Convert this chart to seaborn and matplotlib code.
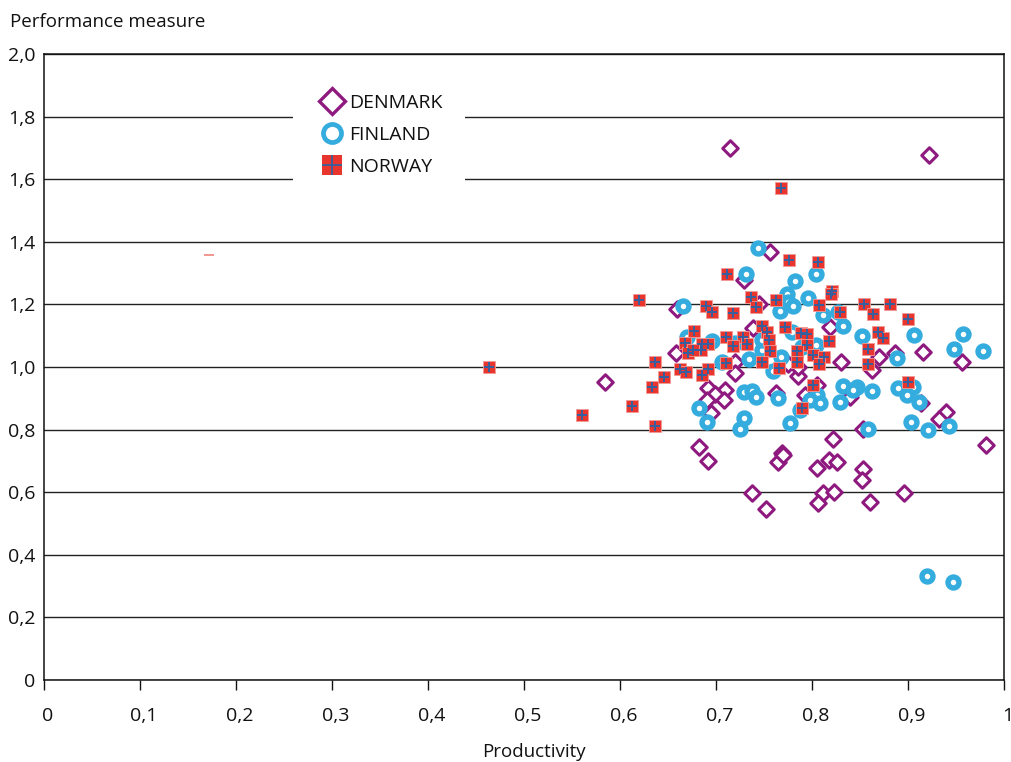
import matplotlib
matplotlib.use("Agg")
import matplotlib.pyplot as plt
import seaborn as sns
from matplotlib.legend_handler import HandlerTuple
from matplotlib.lines import Line2D
from matplotlib.patches import Rectangle
from matplotlib.transforms import ScaledTranslation

denmark_x = [0.7146, 0.922, 0.756, 0.729, 0.745, 0.659, 0.819, 0.739, 0.658, 0.584, 0.72, 0.72,
             0.692, 0.709, 0.699, 0.708, 0.691, 0.695, 0.682, 0.692, 0.769, 0.765, 0.770, 0.805,
             0.818, 0.826, 0.822, 0.853, 0.852, 0.738, 0.752, 0.811, 0.806, 0.823, 0.860, 0.896,
             0.981, 0.940, 0.932, 0.914, 0.853, 0.84, 0.956, 0.916, 0.886, 0.870, 0.863, 0.83,
             0.785, 0.785, 0.775, 0.762, 0.805, 0.793]
denmark_y = [1.70, 1.677, 1.367, 1.278, 1.20, 1.185, 1.128, 1.125, 1.044, 0.952, 1.016, 0.98,
             0.933, 0.927, 0.914, 0.895, 0.895, 0.853, 0.744, 0.70, 0.725, 0.697, 0.72, 0.677,
             0.703, 0.696, 0.77, 0.674, 0.639, 0.597, 0.546, 0.597, 0.565, 0.60, 0.569, 0.597,
             0.75, 0.856, 0.834, 0.885, 0.802, 0.904, 1.016, 1.048, 1.044, 1.032, 0.99, 1.016,
             0.971, 1.0, 1.01, 0.917, 0.942, 0.91]

finland_x = [0.744, 0.731, 0.782, 0.804, 0.774, 0.796, 0.775, 0.78, 0.767, 0.666, 0.811, 0.827,
             0.832, 0.852, 0.906, 0.957, 0.948, 0.978, 0.67, 0.696, 0.72, 0.748, 0.748, 0.779,
             0.79, 0.804, 0.768, 0.734, 0.706, 0.759, 0.889, 0.729, 0.7375, 0.742, 0.765, 0.832,
             0.847, 0.843, 0.863, 0.829, 0.805, 0.798, 0.808, 0.787, 0.89, 0.905, 0.899, 0.911,
             0.682, 0.691, 0.729, 0.725, 0.777, 0.858, 0.903, 0.921, 0.943, 0.92, 0.947]
finland_y = [1.38, 1.297, 1.275, 1.297, 1.233, 1.22, 1.208, 1.195, 1.179, 1.195, 1.166, 1.176,
             1.131, 1.099, 1.102, 1.105, 1.058, 1.051, 1.096, 1.083, 1.077, 1.054, 1.086, 1.112,
             1.064, 1.07, 1.032, 1.026, 1.016, 0.987, 1.028, 0.92, 0.923, 0.904, 0.901, 0.939,
             0.936, 0.926, 0.923, 0.888, 0.91, 0.895, 0.885, 0.863, 0.933, 0.936, 0.911, 0.888,
             0.869, 0.824, 0.837, 0.802, 0.821, 0.802, 0.824, 0.799, 0.811, 0.332, 0.313]

norway_x = [0.768, 0.776, 0.806, 0.711, 0.62, 0.821, 0.82, 0.736, 0.763, 0.69, 0.807, 0.742,
            0.696, 0.718, 0.829, 0.854, 0.881, 0.864, 0.90, 0.677, 0.748, 0.753, 0.772, 0.869,
            0.874, 0.789, 0.795, 0.71, 0.728, 0.755, 0.795, 0.818, 0.668, 0.692, 0.685, 0.718,
            0.732, 0.756, 0.858, 0.784, 0.684, 0.671, 0.676, 0.784, 0.801, 0.812, 0.807, 0.858,
            0.748, 0.766, 0.71, 0.636, 0.663, 0.669, 0.692, 0.685, 0.646, 0.633, 0.613, 0.636,
            0.801, 0.90, 0.79, 0.464, 0.56]
norway_y = [1.572, 1.342, 1.335, 1.297, 1.214, 1.243, 1.233, 1.224, 1.214, 1.195, 1.198, 1.192,
            1.176, 1.173, 1.176, 1.201, 1.201, 1.169, 1.153, 1.115, 1.131, 1.112, 1.128, 1.112,
            1.093, 1.109, 1.105, 1.096, 1.096, 1.086, 1.07, 1.083, 1.077, 1.073, 1.073, 1.067,
            1.073, 1.051, 1.058, 1.051, 1.054, 1.044, 1.054, 1.016, 1.038, 1.032, 1.01, 1.01,
            1.016, 0.997, 1.013, 1.016, 0.994, 0.984, 0.994, 0.974, 0.968, 0.936, 0.875, 0.811,
            0.942, 0.952, 0.869, 1.0, 0.847]

stray_x = [0.172]
stray_y = [1.357]

x_ticks = [0, 0.1, 0.2, 0.3, 0.4, 0.5, 0.6, 0.7, 0.8, 0.9, 1.0]
x_labels = ["0", "0,1", "0,2", "0,3", "0,4", "0,5", "0,6", "0,7", "0,8", "0,9", "1"]
y_ticks = [0, 0.2, 0.4, 0.6, 0.8, 1.0, 1.2, 1.4, 1.6, 1.8, 2.0]
y_labels = ["0", "0,2", "0,4", "0,6", "0,8", "1,0", "1,2", "1,4", "1,6", "1,8", "2,0"]

PURPLE = "#8f1a7f"
BLUE = "#35acde"
RED = "#e8352e"
CROSS = "#35609f"

sns.set_theme(style="white")
plt.rcParams["font.family"] = ["Open Sans", "DejaVu Sans"]

W, H = 1012, 762
fig = plt.figure(figsize=(W / 100, H / 100), dpi=100)
ax = fig.add_axes([44 / W, 1 - 680 / H, 960 / W, 626 / H])

sns.scatterplot(x=denmark_x, y=denmark_y, marker="D", s=62, color="white", edgecolor=PURPLE,
                linewidth=2.2, ax=ax, zorder=3)
sns.scatterplot(x=finland_x, y=finland_y, marker="o", s=62, color="white", edgecolor=BLUE,
                linewidth=3.9, ax=ax, zorder=4)
sns.scatterplot(x=norway_x, y=norway_y, marker="s", s=70, color=RED, edgecolor="#f29a95",
                linewidth=0.6, ax=ax, zorder=5)
sns.scatterplot(x=norway_x, y=norway_y, marker="+", s=60, color=CROSS, linewidth=1.4, ax=ax, zorder=6)
ax.plot(stray_x, stray_y, marker="_", ms=7, mew=1.2, color="#f0847e", ls="none", zorder=3)

ax.set_xlim(0, 1)
ax.set_ylim(0, 2)
ax.set_xticks(x_ticks, x_labels)
ax.set_yticks(y_ticks, y_labels)
ax.tick_params(axis="x", length=7, width=1, color="#111111", labelsize=14, pad=12.5, labelcolor="#111111", bottom=True)
ax.tick_params(axis="y", length=0, labelsize=14, pad=6, labelcolor="#111111")
ax.grid(axis="y", color="#222222", linewidth=1)
ax.set_axisbelow(True)
for s in ax.spines.values():
    s.set_color("#111111")
    s.set_linewidth(1.1)
    s.set_visible(True)

# x labels sit a little right of their ticks in the original
nudge = ScaledTranslation(3.5 / 100, 0, fig.dpi_scale_trans)
for lab in ax.get_xticklabels():
    lab.set_transform(lab.get_transform() + nudge)

# white box behind the legend, it cuts the gridlines
ax.add_patch(Rectangle(((293 - 44) / 960, (680 - 186) / 626), 172 / 960, 100 / 626,
                       transform=ax.transAxes, color="white", zorder=2, lw=0))

handles = [
    Line2D([], [], marker="D", ms=13, mfc="white", mec=PURPLE, mew=2.4, ls="none"),
    Line2D([], [], marker="o", ms=13, mfc="white", mec=BLUE, mew=3.4, ls="none"),
    (Line2D([], [], marker="s", ms=15, mfc=RED, mec=RED, mew=0, ls="none"),
     Line2D([], [], marker="+", ms=15, mec=CROSS, mew=1.3, ls="none")),
]
ax.legend(handles, ["DENMARK", "FINLAND", "NORWAY"], loc="upper left",
          bbox_to_anchor=((321 - 44) / 960, (680 - 93.5) / 626), frameon=False, fontsize=14,
          handlelength=1.15, handletextpad=0.3, labelspacing=0.72, borderpad=0, borderaxespad=0,
          labelcolor="#111111", handler_map={tuple: HandlerTuple(ndivide=1, pad=0)})

fig.text(10 / W, 1 - 22 / H, "Performance measure", fontsize=13.5, color="#111111", va="center", ha="left")
fig.text(534 / W, 1 - 752 / H, "Productivity", fontsize=13.5, color="#111111", va="center", ha="center")

fig.savefig("out.png", dpi=100)
